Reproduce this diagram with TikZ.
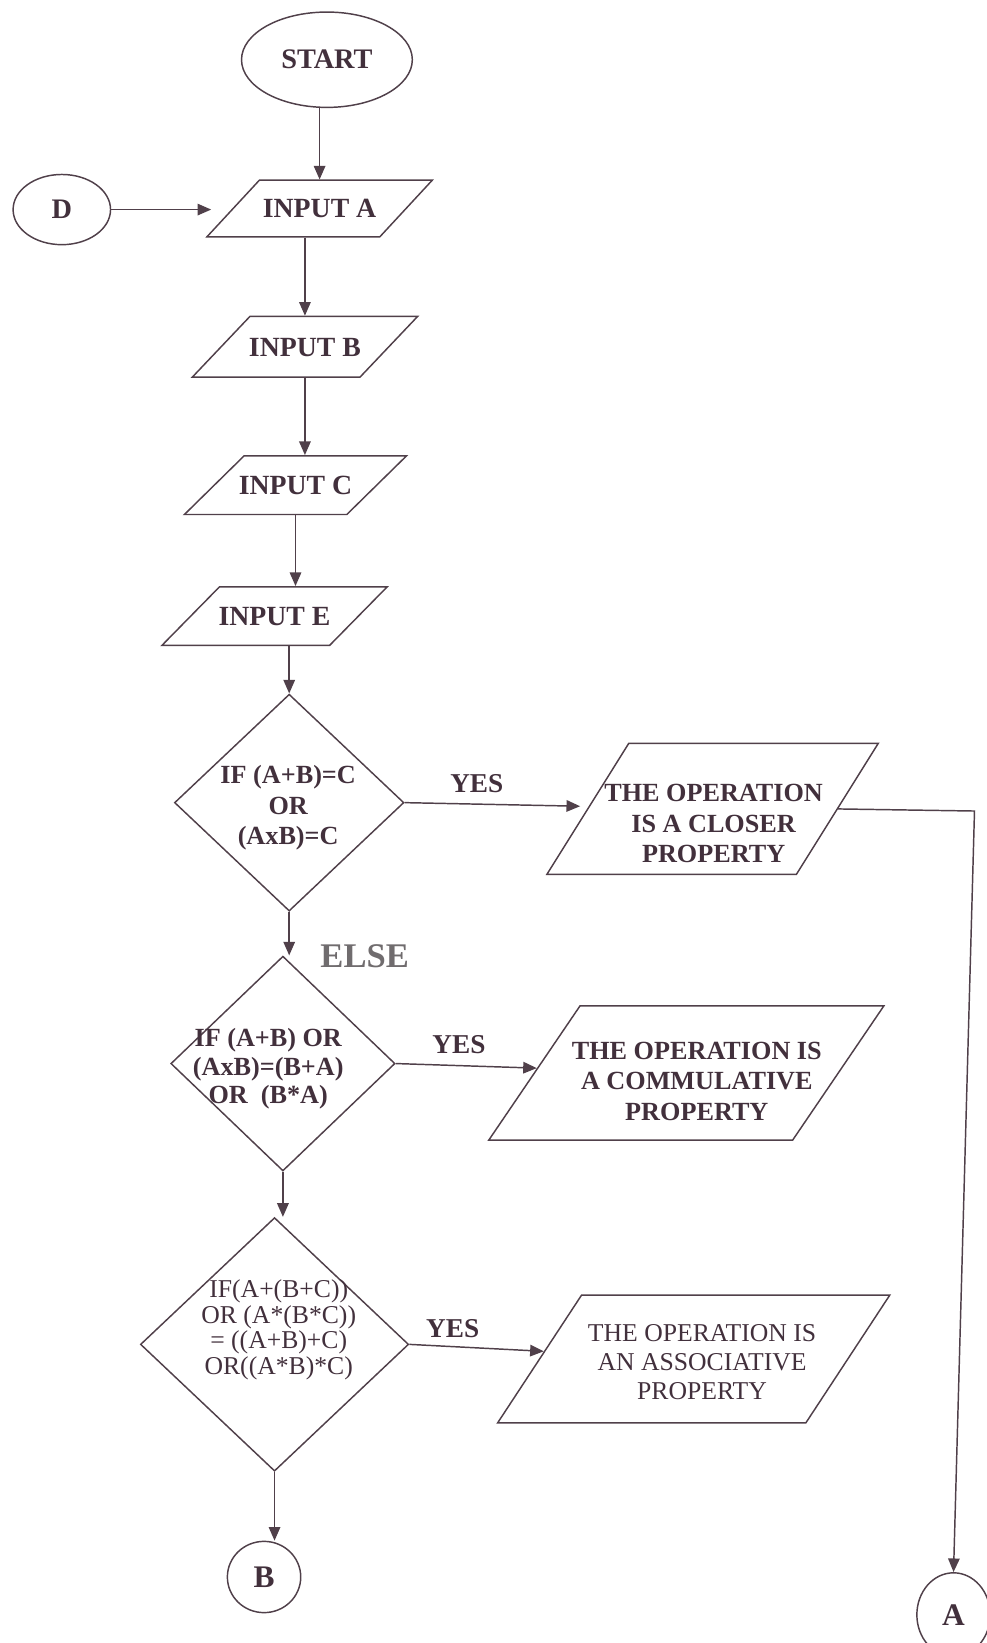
\documentclass[tikz,border=0pt]{standalone}
\usepackage{fontspec}
\setmainfont{Liberation Serif}
\usetikzlibrary{shapes.geometric,arrows.meta}

\definecolor{ink}{RGB}{80,64,74}
\definecolor{inktext}{RGB}{66,48,60}
\definecolor{elsegray}{RGB}{112,108,110}

\tikzset{
	link/.style={line width=1.4pt, color=ink},
	arr/.style={link, -{Triangle[length=13pt,width=11pt]}},
	term/.style={ellipse, draw=ink, line width=1.4pt, inner sep=0pt, text=inktext, font=\fontsize{27}{30}\selectfont\bfseries},
	inbox/.style={trapezium, draw=ink, line width=1.4pt, inner sep=0pt, align=flush center, text=inktext, font=\fontsize{26.5}{30}\selectfont\bfseries},
	decision/.style={diamond, draw=ink, line width=1.4pt, inner sep=1pt},
	btxt/.style={align=flush center, text=inktext, font=\fontsize{25}{29}\selectfont\bfseries},
	ntxt/.style={align=flush center, text=inktext, font=\fontsize{24.5}{24.5}\selectfont},
	yeslbl/.style={text=inktext, font=\fontsize{26}{30}\selectfont\bfseries},
	elselbl/.style={text=elsegray, font=\fontsize{33}{36}\selectfont\bfseries}
}

\begin{document}
\begin{tikzpicture}[x=1pt, y=-1pt]
			%%%%% START %%%%%
			\useasboundingbox (0, 0) rectangle (941, 1568);
			
			\node[term, minimum width=163pt, minimum height=91pt] (start) at (312, 57) {START};
			\node[term, minimum width=93pt, minimum height=67pt] (D) at (59, 200) {D};
			
			\node[inbox, trapezium left angle=47.2, trapezium right angle=132.8, text width=115pt, text height=36pt, text depth=18pt] (inA) at (305, 199) {\makebox[0pt]{INPUT A}};
			\node[inbox, trapezium left angle=46.5, trapezium right angle=133.5, text width=105pt, text height=38pt, text depth=20pt] (inB) at (291, 331) {\makebox[0pt]{INPUT B}};
			\node[inbox, trapezium left angle=44.5, trapezium right angle=135.5, text width=98pt, text height=37pt, text depth=19pt] (inC) at (282, 463) {\makebox[0pt]{INPUT C}};
			\node[inbox, trapezium left angle=45.5, trapezium right angle=134.5, text width=105pt, text height=37pt, text depth=19pt] (inE) at (262, 588) {\makebox[0pt]{INPUT E}};
			
			\draw[arr] (start.south -| inA.north) -- (inA.north);
			\draw[arr, shorten >=20pt] (D.east) -- (D.east -| inA.west);
			\draw[arr] (inA.south -| inB.north) -- (inB.north);
			\draw[arr] (inB.south) -- (inB.south |- inC.north);
			\draw[arr] (inC.south) -- (inC.south |- inE.north);
			
			% the three tests
			\node[decision, minimum width=219pt, minimum height=207pt] (d1) at (276, 766) {};
			\node[decision, minimum width=214pt, minimum height=205pt] (d2) at (270, 1015) {};
			\node[decision, minimum width=256pt, minimum height=242pt] (d3) at (262, 1283) {};
			
			\node[btxt] (d1txt) at (275, 771) {IF (A+B)=C\\OR\\(AxB)=C};
			\node[btxt, font=\fontsize{25}{27.5}\selectfont\bfseries] (d2txt) at (256, 1020) {IF (A+B) OR\\(AxB)=(B+A)\\OR\ \ (B*A)};
			\node[ntxt] (d3txt) at (266, 1269) {IF(A+(B+C))\\OR (A*(B*C))\\= ((A+B)+C)\\OR((A*B)*C)};
			
			\draw[arr] (inE.south -| d1.north) -- (d1.north);
			\draw[arr] (d1.south) -- (d1.south |- d2.north);
			\draw[arr] (d2.south) -- (d2.south |- d3.north);
			
			\node[elselbl] (else) at (348, 913) {ELSE};
			
			% results
			\node[inbox, trapezium left angle=58, trapezium right angle=122, text width=160pt, text height=62.5pt, text depth=62.5pt] (box1) at (680, 772) {};
			\node[inbox, trapezium left angle=55.8, trapezium right angle=124.2, text width=203pt, text height=64pt, text depth=64pt] (box2) at (655, 1024) {};
			\node[inbox, trapezium left angle=56.7, trapezium right angle=123.3, text width=214pt, text height=61pt, text depth=61pt] (box3) at (662, 1297) {};
			
			\node[btxt] (b1txt) at (681, 786) {THE OPERATION\\IS A CLOSER\\PROPERTY};
			\node[btxt] (b2txt) at (665, 1032) {THE OPERATION IS\\A COMMULATIVE\\PROPERTY};
			\node[ntxt, font=\fontsize{24.5}{28}\selectfont] (b3txt) at (670, 1300) {THE OPERATION IS\\AN ASSOCIATIVE\\PROPERTY};
			
			\draw[arr, shorten >=8pt] (d1.east) -- (box1);
			\draw[arr] (d2.east) -- (box2);
			\draw[arr] (d3.east) -- (box3);
			
			\node[yeslbl] (yes1) at (455, 748) {YES};
			\node[yeslbl] (yes2) at (438, 997) {YES};
			\node[yeslbl] (yes3) at (432, 1268) {YES};
			
			% connectors
			\node[term, minimum width=70pt, minimum height=68pt, font=\fontsize{30}{30}\selectfont\bfseries] (B) at (252, 1505) {B};
			\node[term, minimum width=70pt, minimum height=80pt, font=\fontsize{30}{30}\selectfont\bfseries] (A) at (910, 1541) {A};
			
			\coordinate (turnA) at (930, 774);
			\draw[arr] (d3.south) -- (d3.south |- B.north);
			\draw[arr] (box1.east) -- (turnA) -- (A.north);
			
			%%%%% END %%%%%
		\end{tikzpicture}
\end{document}
